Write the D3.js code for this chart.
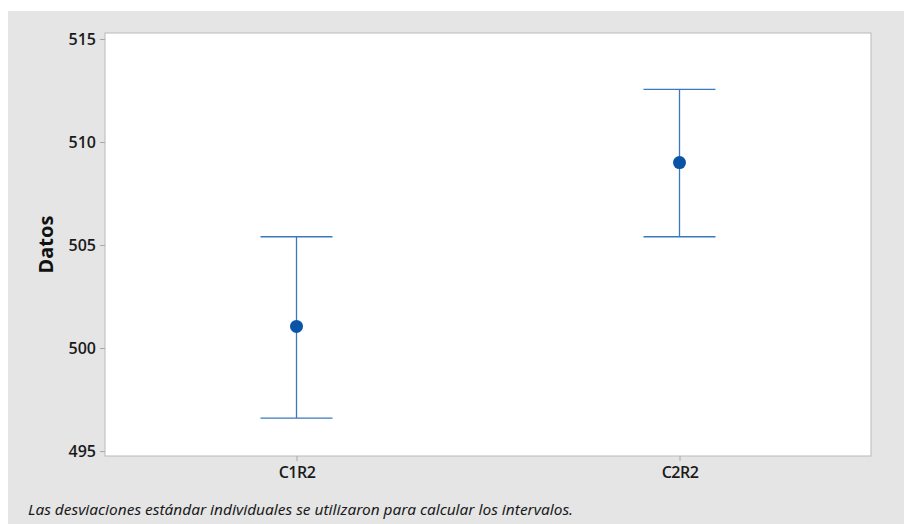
<!DOCTYPE html>
<html>
<head>
<meta charset="utf-8">
<script src="https://cdn.jsdelivr.net/npm/d3@7/dist/d3.min.js"></script>
<style>
  html, body { margin: 0; padding: 0; background: #ffffff; }
  svg { display: block; font-family: "Noto Sans", "Open Sans", sans-serif; }
</style>
</head>
<body>
<svg id="chart" width="904" height="524"></svg>
<script>
// Interval plot data: mean and 95% CI per group
const categories = ["C1R2", "C2R2"];
const means = [501.05, 509.0];
const lower = [496.6, 505.4];
const upper = [505.4, 512.55];
const yTicks = [495, 500, 505, 510, 515];
const yLabel = "Datos";
const footnote = "Las desviaciones estándar individuales se utilizaron para calcular los intervalos.";

const svg = d3.select("#chart");
const W = 904, H = 524;
const plot = { left: 105, top: 33, right: 871, bottom: 456 };

// Outer gray frame
svg.append("rect")
  .attr("x", 8).attr("y", 11)
  .attr("width", W - 8).attr("height", H - 11)
  .attr("fill", "#e5e5e5");

// Plot area
svg.append("rect")
  .attr("x", plot.left).attr("y", plot.top)
  .attr("width", plot.right - plot.left).attr("height", plot.bottom - plot.top)
  .attr("fill", "#ffffff")
  .attr("stroke", "#b9b9b9").attr("stroke-width", 1);

const x = d3.scalePoint()
  .domain(categories)
  .range([plot.left, plot.right])
  .padding(0.5);

const y = d3.scaleLinear()
  .domain([494.76, 515.29])
  .range([plot.bottom, plot.top]);

// Y axis
const yAxis = svg.append("g")
  .attr("transform", `translate(${plot.left},0)`)
  .call(d3.axisLeft(y).tickValues(yTicks).tickSize(5).tickPadding(4).tickFormat(d3.format("d")));
yAxis.select(".domain").remove();
yAxis.selectAll(".tick line").attr("stroke", "#a8a8a8");
yAxis.selectAll(".tick text")
  .attr("fill", "#1a1a1a")
  .style("font-family", "'Open Sans', sans-serif")
  .style("font-size", "16px")
  .style("font-weight", "600");

// X axis
const xAxis = svg.append("g")
  .attr("transform", `translate(0,${plot.bottom})`)
  .call(d3.axisBottom(x).tickSize(5).tickPadding(6));
xAxis.select(".domain").remove();
xAxis.selectAll(".tick line").attr("stroke", "#a8a8a8");
xAxis.selectAll(".tick text")
  .attr("fill", "#1a1a1a")
  .style("font-family", "'Open Sans', sans-serif")
  .style("font-size", "16px")
  .style("font-weight", "600")
  .attr("letter-spacing", "-0.5");

// Y axis title
svg.append("text")
  .attr("transform", `translate(53,${(plot.top + plot.bottom) / 2}) rotate(-90)`)
  .attr("text-anchor", "middle")
  .attr("fill", "#111")
  .style("font-size", "20px")
  .style("font-weight", "700")
  .text(yLabel);

// Interval bars
const capHalf = 36;
const color = "#3a78c2";
const data = categories.map((c, i) => ({ c, m: means[i], lo: lower[i], hi: upper[i] }));
const g = svg.append("g");
g.selectAll("line.stem").data(data).join("line")
  .attr("class", "stem")
  .attr("x1", d => x(d.c)).attr("x2", d => x(d.c))
  .attr("y1", d => y(d.lo)).attr("y2", d => y(d.hi))
  .attr("stroke", color).attr("stroke-width", 1.3);
g.selectAll("line.capTop").data(data).join("line")
  .attr("class", "capTop")
  .attr("x1", d => x(d.c) - capHalf).attr("x2", d => x(d.c) + capHalf)
  .attr("y1", d => y(d.hi)).attr("y2", d => y(d.hi))
  .attr("stroke", color).attr("stroke-width", 1.3);
g.selectAll("line.capBot").data(data).join("line")
  .attr("class", "capBot")
  .attr("x1", d => x(d.c) - capHalf).attr("x2", d => x(d.c) + capHalf)
  .attr("y1", d => y(d.lo)).attr("y2", d => y(d.lo))
  .attr("stroke", color).attr("stroke-width", 1.3);
g.selectAll("circle").data(data).join("circle")
  .attr("cx", d => x(d.c)).attr("cy", d => y(d.m))
  .attr("r", 6.5)
  .attr("fill", "#0a54a8");

// Footnote
svg.append("text")
  .attr("x", 28).attr("y", 515)
  .attr("fill", "#1a1a1a")
  .style("font-size", "15px")
  .style("font-style", "italic")
  .attr("textLength", 545)
  .attr("lengthAdjust", "spacingAndGlyphs")
  .text(footnote);
</script>
</body>
</html>
